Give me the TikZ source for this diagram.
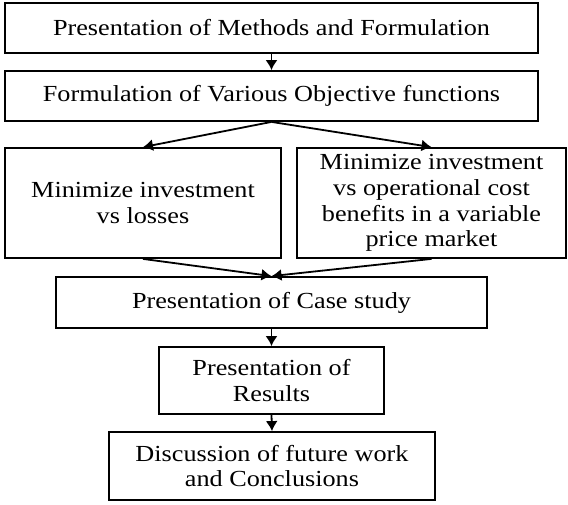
\documentclass[tikz,border=0pt]{standalone}
\usepackage{fontspec}
\setmainfont{Liberation Serif}[FakeStretch=1.14]
\usepackage{tikz}
\usetikzlibrary{arrows.meta,calc,positioning}
\tikzstyle{flow}=[
  >={Latex[length=10pt,width=12pt]}, line width=1.8pt, x=1pt, y=1pt
]
\tikzstyle{stage}=[
  draw, rectangle, line width=1.8pt, inner sep=0pt, align=center,
  font=\fontsize{23}{25.7}\selectfont
]
\tikzstyle{link}=[
  ->, line width=1.8pt
]

\begin{document}
\begin{tikzpicture}[flow]
  \useasboundingbox (0,0) rectangle (568,-504);
  \node (meth) at (271.5,-28) [stage, minimum width=533pt, minimum height=50pt] {Presentation of Methods and Formulation};
  \node (obj) at (271.5,-96) [stage, minimum width=533pt, minimum height=50pt] {Formulation of Various Objective functions};
  \node (loss) at (143,-203) [stage, minimum width=276pt, minimum height=110pt] {Minimize investment\\vs losses};
  \node (price) at (431.5,-203) [stage, minimum width=269pt, minimum height=110pt] {Minimize investment\\vs operational cost\\benefits in a variable\\price market};
  \node (case) at (271.5,-302.5) [stage, minimum width=431pt, minimum height=51pt] {Presentation of Case study};
  \node (res) at (271.5,-380.5) [stage, minimum width=225pt, minimum height=67pt] {Presentation of\\Results};
  \node (disc) at (272,-466) [stage, minimum width=326pt, minimum height=68pt] {Discussion of future work\\and Conclusions};
  % connectors
  \draw [link] (meth.south) -- (obj.north);
  \draw [link] (obj.south) -- (loss.north);
  \draw [link] (obj.south) -- (price.north);
  \draw [link] (loss.south) -- (case.north);
  \draw [link] (price.south) -- (case.north);
  \draw [link] (case.south) -- (res.north);
  \draw [link] (res.south) -- (disc.north);
\end{tikzpicture}
\end{document}
